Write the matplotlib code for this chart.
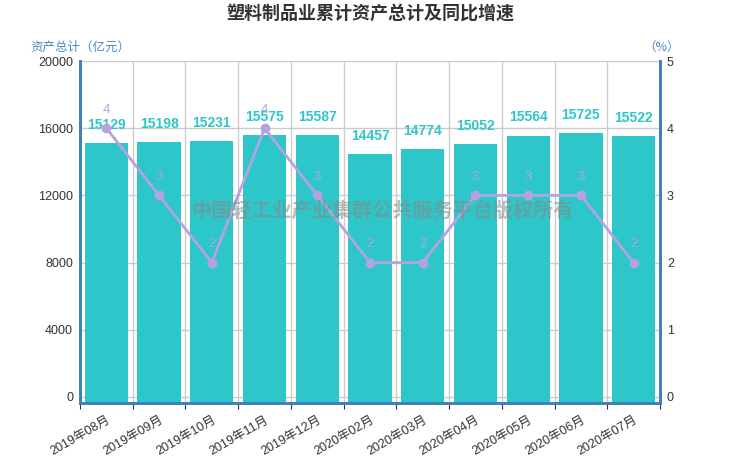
import matplotlib
matplotlib.use("Agg")
import matplotlib.pyplot as plt
import numpy as np

plt.rcParams['font.family'] = ['Liberation Sans', 'Noto Sans CJK SC', 'DejaVu Sans']

categories = ["2019年08月", "2019年09月", "2019年10月", "2019年11月", "2019年12月",
              "2020年02月", "2020年03月", "2020年04月", "2020年05月", "2020年06月", "2020年07月"]
assets = [15129, 15198, 15231, 15575, 15587, 14457, 14774, 15052, 15564, 15725, 15522]
growth = [4, 3, 2, 4, 3, 2, 2, 3, 3, 3, 2]
left_ticks = [0, 4000, 8000, 12000, 16000, 20000]
right_ticks = [0, 1, 2, 3, 4, 5]

BAR = '#2ec7c9'
LINE = '#b6a2de'
AXIS = '#3f80bf'
CJK = ['Noto Sans CJK SC', 'DejaVu Sans']

W, H = 740, 462
fig = plt.figure(figsize=(W/100, H/100), dpi=100)
ax = fig.add_axes([80/W, 1-403/H, 580/W, 342/H])
ax2 = ax.twinx()

lmin = -360
ax.set_ylim(lmin, 20000)
ax2.set_ylim(lmin/4000, 5)
n = len(categories)
x = np.arange(n)
ax.set_xlim(-0.5, n-0.5)

ax.bar(x, np.array(assets) - lmin, bottom=lmin, width=0.82, color=BAR, zorder=2)
for xi, v in zip(x, assets):
    ax.annotate(str(v), (xi, v), xytext=(0, 8), textcoords='offset points',
                ha='center', va='bottom', color=BAR, fontsize=10, fontweight='bold', zorder=5)

ax2.plot(x, growth, color=LINE, lw=2, marker='o', ms=6, zorder=4)
for xi, v in zip(x, growth):
    ax2.annotate(str(v), (xi, v), xytext=(0, 9), textcoords='offset points',
                 ha='center', va='bottom', color=LINE, fontsize=9.5, zorder=5)

# grid
ax.set_yticks(left_ticks)
ax.set_yticklabels([str(t) for t in left_ticks], fontsize=9, color='#333333')
ax2.set_yticks(right_ticks)
ax2.set_yticklabels([str(t) for t in right_ticks], fontsize=9, color='#333333')
ax.yaxis.grid(True, color='#cccccc', lw=1, zorder=0)
ax.set_axisbelow(True)
ax.set_xticks(np.arange(-0.5, n, 1.0), minor=False)
ax.set_xticklabels([])
for b in np.arange(0.5, n-0.5, 1.0):
    ax.axvline(b, color='#cccccc', lw=1, zorder=0)
ax.set_xticks(x, minor=True)
ax.set_xticklabels(categories, minor=True, rotation=30, ha='right', rotation_mode='anchor',
                   fontsize=9, color='#333333')
ax.tick_params(axis='x', which='minor', length=0, pad=8)
ax.tick_params(axis='x', which='major', length=4, color='#333333')
ax.tick_params(axis='y', length=0, pad=5)
ax2.tick_params(axis='y', length=0, pad=5)

for a in (ax, ax2):
    a.spines['top'].set_visible(False)
    for s in ('left', 'right', 'bottom'):
        a.spines[s].set_color(AXIS)
        a.spines[s].set_linewidth(2)

fig.text(370/W, 1-14/H, "塑料制品业累计资产总计及同比增速", ha='center', va='center',
         fontsize=13, fontweight='bold', color='#333333', family=CJK)
fig.text(30/W, 1-47/H, "资产总计（亿元）", ha='left', va='center', fontsize=9, color='#4a8bc2',
         family=CJK)
fig.text(662/W, 1-47/H, "（%）", ha='center', va='center', fontsize=9, color='#4a8bc2',
         family=CJK)
fig.text(382/W, 1-210/H, "中国轻工业产业集群公共服务平台版权所有", ha='center', va='center',
         fontsize=14.5, fontweight='bold', color='#888888', alpha=0.55, zorder=10, family=CJK)

fig.savefig("out.png", dpi=100)
